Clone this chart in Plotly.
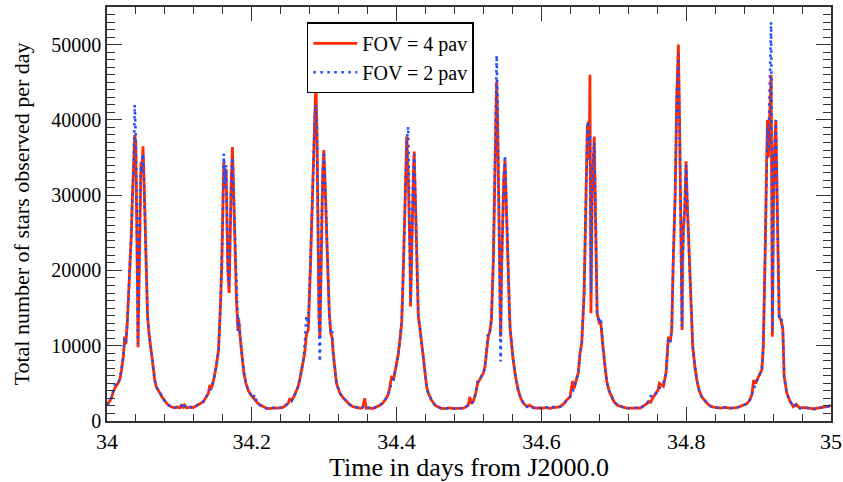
import plotly.graph_objects as go

# Time in days from J2000.0 (samples)
TIME = [
    34.000, 34.003, 34.006, 34.009, 34.0115, 34.0152, 34.018, 34.020, 34.0225, 34.0245,
    34.026, 34.028, 34.030, 34.032, 34.0337, 34.035, 34.037, 34.0383, 34.0397, 34.0408,
    34.0415, 34.0422, 34.0428, 34.0436, 34.044, 34.045, 34.046, 34.047, 34.048, 34.0497,
    34.051, 34.052, 34.0535, 34.0545, 34.056, 34.058, 34.060, 34.0614, 34.0637, 34.066,
    34.068, 34.071, 34.075, 34.078, 34.082, 34.085, 34.089, 34.093, 34.097, 34.1005,
    # B
    34.103, 34.105, 34.107, 34.110, 34.114, 34.119, 34.123, 34.127, 34.130, 34.133,
    34.137, 34.140, 34.142, 34.144, 34.147, 34.149, 34.151, 34.154, 34.1555, 34.157,
    34.1585, 34.1595, 34.1605, 34.1613, 34.163, 34.1645, 34.1658, 34.167, 34.1687, 34.170,
    34.1715, 34.1733, 34.175, 34.1765, 34.1788, 34.181, 34.182, 34.1835, 34.1857, 34.189,
    34.192, 34.195, 34.1985, 34.2018, 34.204, 34.207, 34.211, 34.215, 34.220, 34.225,
    34.230,
    # C
    34.235, 34.239, 34.243, 34.247, 34.2505, 34.2525, 34.255, 34.258, 34.261, 34.264,
    34.2665, 34.2687, 34.271, 34.273, 34.2755, 34.278, 34.281, 34.2825, 34.284, 34.2855,
    34.287, 34.2885, 34.290, 34.2915, 34.2928, 34.294, 34.2952, 34.2965, 34.298, 34.2995,
    34.301, 34.302, 34.304, 34.3055, 34.307, 34.309, 34.311, 34.3124, 34.315, 34.317,
    34.3195, 34.3216, 34.326, 34.331, 34.335, 34.340, 34.345, 34.350, 34.353, 34.356,
    # D
    34.358, 34.362, 34.367, 34.372, 34.377, 34.381, 34.386, 34.389, 34.393, 34.396,
    34.400, 34.4025, 34.4046, 34.407, 34.409, 34.4105, 34.4115, 34.413, 34.414, 34.416,
    34.4175, 34.4185, 34.4193, 34.4205, 34.4218, 34.4232, 34.4243, 34.426, 34.4277, 34.429,
    34.430, 34.432, 34.4346, 34.437, 34.439, 34.4415, 34.4437, 34.448, 34.453, 34.457,
    34.461, 34.466, 34.469, 34.474, 34.479, 34.484, 34.488, 34.492,
    # E
    34.496, 34.499, 34.501, 34.5035, 34.506, 34.509, 34.512, 34.515, 34.518, 34.520,
    34.522, 34.524, 34.5266, 34.529, 34.531, 34.5336, 34.535, 34.5365, 34.5382, 34.5395,
    34.5408, 34.542, 34.5437, 34.545, 34.5465, 34.548, 34.5497, 34.551, 34.553, 34.5548,
    34.5566, 34.559, 34.561, 34.564, 34.568, 34.5715, 34.575, 34.580, 34.584, 34.588,
    34.5925, 34.597, 34.6026, 34.607,
    # F
    34.612, 34.6165, 34.621, 34.626, 34.631, 34.635, 34.6395, 34.643, 34.645, 34.648,
    34.651, 34.6534, 34.6557, 34.659, 34.6612, 34.6635, 34.665, 34.6662, 34.667, 34.6685,
    34.670, 34.6715, 34.673, 34.675, 34.677, 34.680, 34.682, 34.6855, 34.688, 34.690,
    34.6935, 34.697, 34.700, 34.705, 34.710, 34.714, 34.718, 34.723, 34.727, 34.732,
    34.736,
    # G
    34.741, 34.7455, 34.748, 34.751, 34.7546, 34.758, 34.761, 34.763, 34.766, 34.7685,
    34.7722, 34.7754, 34.778, 34.780, 34.782, 34.7847, 34.787, 34.7892, 34.791, 34.793,
    34.7943, 34.795, 34.796, 34.798, 34.7998, 34.802, 34.8044, 34.806, 34.809, 34.812,
    34.8147, 34.818, 34.8216, 34.8285, 34.833, 34.8376, 34.843, 34.848, 34.853, 34.8607,
    34.866,
    # H
    34.871, 34.876, 34.880, 34.884, 34.888, 34.891, 34.893, 34.896, 34.899, 34.902,
    34.9045, 34.9065, 34.9077, 34.909, 34.910, 34.9114, 34.9122, 34.9135, 34.915, 34.9173,
    34.9182, 34.919, 34.9205, 34.922, 34.9238, 34.926, 34.9284, 34.931, 34.9335, 34.9353,
    34.937, 34.939, 34.943, 34.948, 34.952, 34.957, 34.962, 34.966, 34.971, 34.977,
    34.981, 34.985, 34.990, 34.995, 35.000,
]

# Total number of stars observed per day, FOV = 4 pav
FOV4 = [
    2100, 2600, 3000, 4000, 4500, 5000, 5600, 6800, 8500, 11200,
    10200, 13000, 17000, 21000, 25000, 29500, 33800, 38000, 37000, 30000,
    25000, 17000, 9800, 15000, 20500, 27000, 31100, 34400, 33000, 36500,
    32500, 28400, 22000, 17800, 14000, 11700, 10000, 9200, 6800, 5400,
    4560, 4000, 3450, 2900, 2400, 2100, 1900, 1750, 1850, 1750,
    # B
    2200, 1700, 2100, 1750, 1850, 1800, 2000, 2200, 2400, 2570,
    3200, 3700, 4800, 4300, 5300, 6100, 7300, 9400, 12000, 16100,
    20500, 25000, 30500, 34400, 31000, 33500, 26000, 20000, 17000, 26000,
    31500, 36400, 30000, 25000, 16100, 12000, 13400, 11500, 9400, 6400,
    5000, 4100, 3500, 3050, 2800, 2500, 2150, 1900, 1700, 1650,
    1750,
    # C
    1700, 1700, 1800, 2100, 2400, 3000, 2700, 3200, 3900, 4560,
    5600, 6800, 8000, 9000, 11500, 12100, 20500, 25000, 29400, 35000,
    40900, 45300, 38500, 20500, 14000, 11000, 18000, 27000, 33000, 36000,
    32500, 29400, 23000, 18300, 14500, 11700, 11000, 9000, 6500, 5000,
    4300, 3700, 3100, 2570, 2200, 1900, 1800, 1700, 1800, 3000,
    # D
    1700, 1750, 1650, 1850, 2100, 2400, 3100, 3700, 5800, 5600,
    7500, 9000, 10800, 13000, 19200, 25000, 30300, 36000, 37800, 33000,
    28000, 22000, 15200, 22000, 30000, 33000, 35800, 30000, 23600, 18000,
    13900, 12500, 10300, 7800, 5900, 4600, 3700, 2800, 2100, 1900,
    1700, 1650, 1700, 1750, 1650, 1700, 1750, 1700,
    # E
    1900, 2100, 3200, 2300, 2600, 3600, 5000, 5600, 6000, 6400,
    7200, 9000, 11200, 12000, 13500, 21400, 29000, 37000, 45100, 40000,
    30000, 20000, 11200, 20000, 27000, 32000, 34700, 31000, 25800, 18000,
    12500, 10000, 8100, 6000, 4100, 3000, 2400, 1900, 2100, 1800,
    1700, 1750, 1700, 1800,
    # F
    1650, 1850, 1800, 1900, 2300, 2800, 3200, 5300, 4300, 5400,
    6400, 9000, 10300, 17000, 30300, 39100, 39800, 34700, 46000, 14300,
    30000, 35000, 37800, 25800, 14300, 13000, 13000, 9400, 7000, 5400,
    4000, 3200, 2600, 2100, 1900, 1800, 1700, 1650, 1700, 1750,
    1700,
    # G
    2000, 2300, 2600, 2500, 3200, 3600, 4100, 5000, 4800, 4600,
    6400, 11200, 10500, 12100, 21000, 29800, 43100, 50000, 38700, 25400,
    12100, 21000, 25400, 28000, 34500, 27600, 21800, 16500, 9900, 7200,
    5450, 4000, 3200, 2400, 2000, 1850, 1750, 1700, 1800, 1700,
    1750,
    # H
    1800, 2000, 2100, 2300, 2800, 3600, 5400, 5000, 5700, 6400,
    6800, 10000, 14700, 22000, 28000, 36000, 40000, 35000, 40000, 46000,
    30000, 11200, 28000, 36000, 40000, 28000, 13900, 13400, 12100, 5900,
    4800, 3700, 2700, 1900, 2200, 1700, 1800, 1750, 1700, 1600,
    1700, 1800, 1850, 1900, 2100,
]

# Total number of stars observed per day, FOV = 2 pav
FOV2 = [
    2100, 2500, 3100, 4200, 5000, 5000, 5700, 6800, 8600, 11000,
    10400, 13000, 17000, 21000, 25000, 29500, 34500, 42000, 38000, 30000,
    25000, 17000, 10200, 15000, 20500, 27000, 31100, 34000, 33000, 35500,
    32500, 28400, 22000, 17800, 14000, 11700, 10000, 9300, 6800, 5400,
    4600, 4000, 3450, 2900, 2400, 2100, 1900, 1800, 1850, 1750,
    # B
    2000, 1750, 2150, 1700, 1850, 1800, 2000, 2200, 2400, 2570,
    3200, 3800, 4100, 4300, 5300, 6100, 7300, 9400, 12000, 16100,
    20500, 25000, 30500, 35500, 31500, 34000, 26000, 20000, 18000, 26000,
    31500, 35000, 30000, 25000, 16100, 12000, 13700, 11500, 9400, 6400,
    5000, 4100, 3500, 3050, 3500, 2500, 2150, 1900, 1700, 1650,
    1750,
    # C
    1700, 1700, 1800, 2100, 2400, 2600, 2700, 3200, 3900, 4560,
    5600, 6800, 8000, 10000, 14000, 12500, 20500, 25000, 29400, 35000,
    40500, 42000, 38500, 20500, 13000, 7900, 18000, 27000, 33000, 35800,
    32500, 29400, 23000, 18300, 14500, 11700, 12000, 9000, 6500, 5000,
    4300, 3700, 3100, 2570, 2200, 1900, 1800, 1700, 1800, 2000,
    # D
    1700, 1750, 1650, 1850, 2100, 2400, 3100, 3700, 5000, 5600,
    7500, 9000, 10800, 13000, 19200, 25000, 30300, 36000, 37000, 39100,
    29000, 22000, 15600, 22000, 30000, 33000, 35500, 30000, 23600, 18000,
    13900, 12500, 10300, 7800, 5900, 4600, 3700, 2800, 2100, 1900,
    1700, 1650, 1700, 1750, 1650, 1700, 1750, 1700,
    # E
    1900, 2100, 2300, 2300, 2600, 3600, 5400, 5600, 6000, 6400,
    7200, 9000, 12000, 12000, 13500, 21400, 29000, 37000, 48600, 42000,
    30000, 20000, 7900, 20000, 27000, 32000, 35300, 31000, 25800, 18000,
    12500, 10000, 8100, 6000, 4100, 3000, 2400, 1900, 2100, 1800,
    1700, 1750, 1700, 1800,
    # F
    1650, 1850, 1800, 1900, 2300, 2800, 3200, 3900, 4300, 5400,
    6400, 9000, 10300, 17000, 30300, 39100, 39800, 37000, 38000, 17000,
    28000, 35000, 37000, 25800, 14300, 13000, 13700, 9400, 7000, 5400,
    4000, 3200, 2600, 2100, 1900, 1800, 1700, 1650, 1700, 1750,
    1700,
    # G
    2000, 2300, 2600, 3300, 3200, 3600, 4100, 4300, 4800, 5000,
    6400, 11000, 10500, 12100, 21000, 29800, 43100, 48700, 38700, 25400,
    12600, 21000, 24000, 28000, 34000, 27600, 21800, 16500, 9900, 7200,
    5450, 4000, 3200, 2400, 2000, 1850, 1750, 1700, 1800, 1700,
    1750,
    # H
    1800, 2000, 2100, 2300, 2800, 3600, 4400, 5000, 5700, 6400,
    6800, 10000, 14700, 22000, 28000, 36000, 39000, 36000, 42000, 53000,
    33000, 12000, 28000, 36000, 40000, 28000, 13900, 14000, 12100, 5900,
    4800, 3700, 2700, 1900, 2200, 1700, 1800, 1750, 1700, 1600,
    1700, 1800, 1850, 1900, 2100,
]

SERIES_NAMES = ["FOV = 4 pav", "FOV = 2 pav"]
X_TITLE = "Time in days from J2000.0"
Y_TITLE = "Total number of stars observed per day"
Y_TICKS = [0, 10000, 20000, 30000, 40000, 50000]

assert len(TIME) == len(FOV4) == len(FOV2), (len(TIME), len(FOV4), len(FOV2))

FONT = "Liberation Serif"

fig = go.Figure()
fig.add_trace(go.Scatter(
    x=TIME, y=FOV4, mode="lines", name=SERIES_NAMES[0],
    line=dict(color="#ff2a00", width=2.8),
))
fig.add_trace(go.Scatter(
    x=TIME, y=FOV2, mode="lines", name=SERIES_NAMES[1],
    line=dict(color="#1f4dff", width=2.6, dash="2.5px,4.5px"),
))

axis_common = dict(
    showgrid=False, zeroline=False, showline=True, linecolor="#333",
    linewidth=1.5, mirror="allticks", ticks="inside", tickcolor="#333",
    tickwidth=1.3, automargin=False,
)

fig.update_layout(
    width=843, height=482,
    margin=dict(l=107, r=12, t=7, b=61),
    paper_bgcolor="white", plot_bgcolor="white",
    font=dict(family=FONT, color="black"),
    showlegend=True,
    legend=dict(
        x=0.276, y=0.963, xanchor="left", yanchor="top",
        bgcolor="white", bordercolor="black", borderwidth=1.5,
        font=dict(family=FONT, size=20, color="black"),
        tracegroupgap=0, itemwidth=44,
    ),
    xaxis=dict(
        range=[34, 35], dtick=0.2, tick0=34, ticklen=14,
        minor=dict(dtick=0.04, ticklen=7, ticks="inside", tickcolor="#333"),
        tickfont=dict(family=FONT, size=22, color="black"),
        title=dict(text=X_TITLE, font=dict(family=FONT, size=26), standoff=7),
        **axis_common,
    ),
    yaxis=dict(
        range=[0, 55000], tickvals=Y_TICKS, tickformat="d", ticklen=15,
        minor=dict(dtick=1000, ticklen=8, ticks="inside", tickcolor="#333"),
        tickfont=dict(family=FONT, size=20, color="black"),
        title=dict(text=Y_TITLE, font=dict(family=FONT, size=22), standoff=16),
        **axis_common,
    ),
)

fig.write_html(
    "out.html",
    config={"displayModeBar": False},
    post_script="document.body.style.margin='0px';document.body.style.overflow='hidden';",
)
